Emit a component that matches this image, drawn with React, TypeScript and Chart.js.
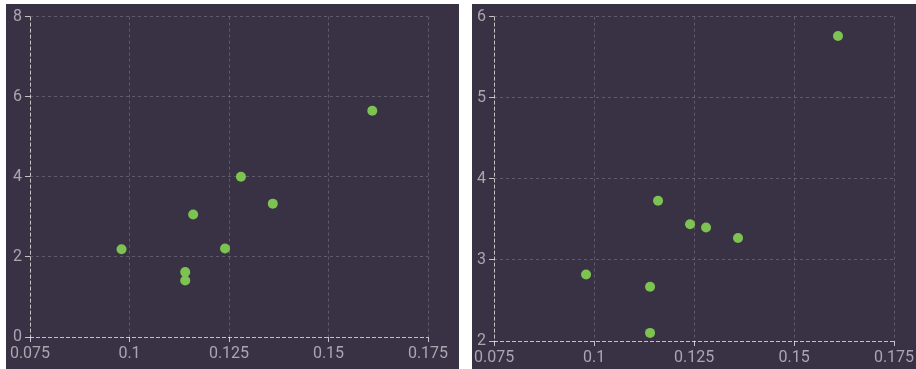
import React, { useEffect, useRef } from "react";
import { Chart, registerables } from "chart.js";

Chart.register(...registerables);

// ---- data ----
const xValues = [0.098, 0.114, 0.114, 0.116, 0.124, 0.128, 0.136, 0.161];
const leftY = [2.19, 1.62, 1.41, 3.06, 2.21, 4.0, 3.33, 5.65];
const rightY = [2.82, 2.67, 2.1, 3.73, 3.44, 3.4, 3.27, 5.76];
const xTicks = [0.075, 0.1, 0.125, 0.15, 0.175];
const leftYTicks = [0, 2, 4, 6, 8];
const rightYTicks = [2, 3, 4, 5, 6];

const BG = "#393244";
const POINT = "#7dc352";
const LABEL = "#aaa5b0";
const GRID = "rgba(255,255,255,0.2)";
const AXIS = "rgba(255,255,255,0.7)";

type PanelProps = {
  ys: number[];
  yTicks: number[];
  left: number;
  yWidth: number;
  xHeight: number;
  padTop: number;
};

function Panel({ ys, yTicks, left, yWidth, xHeight, padTop }: PanelProps) {
  const ref = useRef<HTMLCanvasElement | null>(null);
  useEffect(() => {
    if (!ref.current) return;
    const points = xValues.map((x, i) => ({ x, y: ys[i] }));
    const yMin = yTicks[0];
    const yMax = yTicks[yTicks.length - 1];
    const yStep = yTicks[1] - yTicks[0];
    const xMin = xTicks[0];
    const xMax = xTicks[xTicks.length - 1];
    const xStep = xTicks[1] - xTicks[0];
    const gridColor = (c: any) => (c.index === 0 ? AXIS : GRID);
    const gridDash = (c: any) => (c.index === 0 ? [4, 2] : [3, 3]);
    const font = { family: "Roboto", size: 16 };
    const chart = new Chart(ref.current, {
      type: "scatter",
      data: {
        datasets: [
          {
            data: points,
            backgroundColor: POINT,
            borderWidth: 0,
            pointRadius: 5,
            pointHoverRadius: 5,
          },
        ],
      },
      options: {
        animation: false,
        responsive: false,
        layout: { padding: { top: padTop, right: 31, left: 0, bottom: 0 } },
        plugins: { legend: { display: false }, tooltip: { enabled: false } },
        scales: {
          x: {
            type: "linear",
            min: xMin,
            max: xMax,
            afterFit: (s: any) => {
              s.height = xHeight;
            },
            ticks: {
              stepSize: xStep,
              color: LABEL,
              font,
              padding: 2,
              maxRotation: 0,
              callback: (v: any) => String(parseFloat(Number(v).toFixed(4))),
            },
            grid: { color: gridColor, tickColor: AXIS, tickLength: 5 },
            border: { display: false, dash: gridDash },
          },
          y: {
            type: "linear",
            min: yMin,
            max: yMax,
            afterFit: (s: any) => {
              s.width = yWidth;
            },
            ticks: { stepSize: yStep, color: LABEL, font, padding: 3 },
            grid: { color: gridColor, tickColor: AXIS, tickLength: 5 },
            border: { display: false, dash: gridDash },
          },
        },
      },
    });
    return () => chart.destroy();
  }, []);
  return (
    <div
      style={{
        position: "absolute",
        left,
        top: 4,
        width: 453,
        height: 365,
        background: BG,
      }}
    >
      <canvas ref={ref} width={453} height={365} style={{ display: "block" }} />
    </div>
  );
}

export default function App() {
  return (
    <div
      style={{
        position: "fixed",
        left: 0,
        top: 0,
        width: 916,
        height: 369,
        overflow: "hidden",
        background: "#fff",
      }}
    >
      <Panel ys={leftY} yTicks={leftYTicks} left={6} yWidth={24} xHeight={32} padTop={10} />
      <Panel ys={rightY} yTicks={rightYTicks} left={472} yWidth={21} xHeight={28} padTop={12} />
    </div>
  );
}
